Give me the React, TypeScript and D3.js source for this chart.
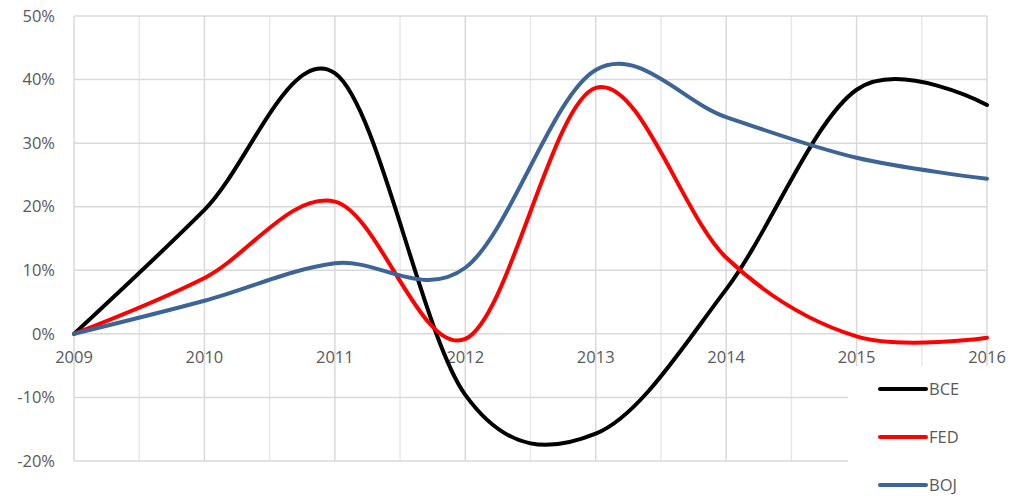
import React from "react";
import * as d3 from "d3";

const years = [2009, 2010, 2011, 2012, 2013, 2014, 2015, 2016];
const bce = [0, 19.5, 41, -9.6, -15.7, 7, 38.4, 36];
const fed = [0, 8.8, 20.8, -0.8, 38.7, 12, -0.4, -0.6];
const boj = [0, 5.2, 11.1, 10.4, 41.5, 34.1, 27.7, 24.4];
const yTicks = [-20, -10, 0, 10, 20, 30, 40, 50];
const seriesNames = ["BCE", "FED", "BOJ"];
const seriesColors = ["#000000", "#ff0000", "#3c6496"];

const W = 1021;
const H = 496;

export default function App() {
  const x = d3.scaleLinear().domain([2009, 2016]).range([74, 987]);
  const y = d3.scaleLinear().domain([-20, 50]).range([461, 16]);
  const line = d3
    .line<number>()
    .x((_, i) => x(years[i]))
    .y((d) => y(d))
    .curve(d3.curveCatmullRom.alpha(0));
  const data = [bce, fed, boj];
  const halfYears = d3.range(2009, 2016.01, 0.5);
  const font = "'Open Sans', sans-serif";
  return (
    <svg
      width={W}
      height={H}
      style={{ position: "absolute", left: 0, top: 0, background: "#fff" }}
    >
      {halfYears.map((v) => (
        <line
          key={"v" + v}
          x1={x(v)}
          x2={x(v)}
          y1={y(50)}
          y2={y(-20)}
          stroke={Number.isInteger(v) ? "#d9d9d9" : "#e8e8e8"}
          strokeWidth={1.5}
        />
      ))}
      {yTicks.map((t) => (
        <line
          key={"h" + t}
          x1={x(2009)}
          x2={x(2016)}
          y1={y(t)}
          y2={y(t)}
          stroke="#d9d9d9"
          strokeWidth={1.5}
        />
      ))}
      {yTicks.map((t) => (
        <text
          key={"yl" + t}
          x={55}
          y={y(t)}
          dy="0.35em"
          textAnchor="end"
          fontFamily={font}
          fontSize={16.5}
          fill="#595959"
        >
          {t + "%"}
        </text>
      ))}
      {years.map((yr) => (
        <text
          key={"xl" + yr}
          x={x(yr)}
          y={357}
          dy="0.35em"
          textAnchor="middle"
          fontFamily={font}
          fontSize={16.5}
          fill="#595959"
        >
          {yr}
        </text>
      ))}
      <rect x={848} y={366} width={W - 848} height={H - 366} fill="#fff" />
      {data.map((d, i) => (
        <path
          key={"s" + i}
          d={line(d) || ""}
          fill="none"
          stroke={seriesColors[i]}
          strokeWidth={4}
          strokeLinecap="round"
        />
      ))}
      {seriesNames.map((n, i) => (
        <g key={"lg" + n} transform={`translate(0, ${389 + i * 48})`}>
          <line x1={880} x2={926} y1={0} y2={0} stroke={seriesColors[i]} strokeWidth={4} strokeLinecap="round" />
          <text x={929} y={0} dy="0.35em" fontFamily={font} fontSize={16.5} fill="#595959">
            {n}
          </text>
        </g>
      ))}
    </svg>
  );
}
